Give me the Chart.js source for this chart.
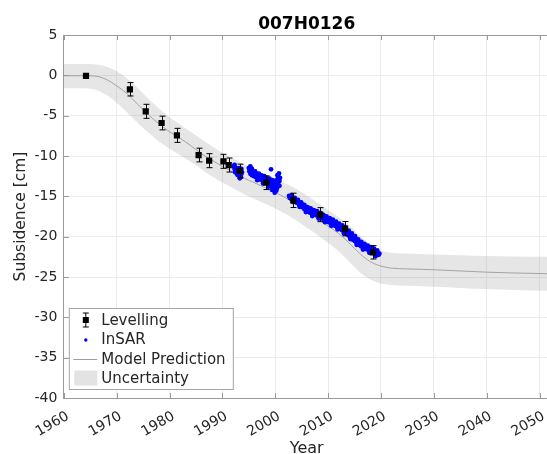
<!DOCTYPE html>
<html><head><meta charset="utf-8">
<script src="https://cdn.jsdelivr.net/npm/chart.js@4.4.1/dist/chart.umd.min.js"></script>
<style>
html,body{margin:0;padding:0;background:#fff;overflow:hidden;}
#wrap{position:absolute;left:0;top:0;width:547px;height:454px;overflow:hidden;background:#fff;}
canvas{display:block;}
</style></head><body>
<div id="wrap"><canvas id="c" width="554" height="464"></canvas></div>
<script>
const chartTitle = '007H0126';
const xTicks = [1960, 1970, 1980, 1990, 2000, 2010, 2020, 2030, 2040, 2050];
const yTicks = [5, 0, -5, -10, -15, -20, -25, -30, -35, -40];
const legendLabels = ['Levelling', 'InSAR', 'Model Prediction', 'Uncertainty'];

const levYears  = [1964.2, 1972.5, 1975.5, 1978.5, 1981.4, 1985.5, 1987.5, 1990.2, 1991.2, 1993.3, 1998.3, 2003.4, 2008.5, 2013.2, 2018.5];
const levValues = [-0.08, -1.73, -4.46, -5.91, -7.44, -9.88, -10.58, -10.66, -11.12, -11.86, -13.31, -15.5, -17.27, -19.01, -21.94];
const levErrors = [0, 0.83, 0.87, 0.85, 0.87, 0.85, 0.87, 0.87, 0.87, 0.85, 0.85, 0.89, 0.87, 0.89, 0.83];

const insarYears = [
 1992.2,1992.3,1992.4,1992.5,1992.6,1992.7,1992.8,1992.9,1993.0,1993.1,1993.2,1993.3,1993.4,1993.5,1993.6,1992.4,1992.8,1993.7,1993.3,
 1992.3,1993.0,1993.6,
 1995.0,1995.1,1995.2,1995.3,1995.4,1995.5,1995.6,1995.7,1995.8,1995.9,1996.0,1996.1,1996.3,1996.4,1996.5,1996.7,1996.8,1997.0,1997.1,1997.3,
 1997.5,1997.6,1997.8,1998.0,1998.1,1998.3,1998.5,1998.6,1998.8,1999.0,1999.1,1999.2,1999.3,1999.5,1999.6,1999.7,1999.9,2000.0,2000.1,2000.2,
 2000.3,2000.4,2000.5,2000.6,2000.7,2000.8,2000.9,1999.8,2000.2,
 1995.3,1995.6,1996.2,1996.9,1997.4,1997.9,1998.4,1998.9,1999.4,1999.8,2000.4,1996.6,1997.7,1998.7,1999.4,2000.3,2000.8,
 2002.60,2002.75,2002.90,2003.05,2003.20,2003.35,2003.50,2003.65,2003.80,2003.95,2004.10,2004.25,2004.40,2004.55,2004.70,2004.85,
 2005.00,2005.15,2005.30,2005.45,2005.60,2005.75,2005.90,2006.05,2006.20,2006.35,2006.50,2006.65,2006.80,2006.95,2007.10,2007.25,
 2007.40,2007.55,2007.70,2007.85,2008.00,2008.15,2008.30,2008.45,2008.60,2008.75,2008.90,2009.05,2009.20,2009.35,2009.50,2009.65,
 2009.80,2009.95,2010.10,2010.25,2010.40,2010.55,2010.70,2010.85,2011.00,2011.15,2011.30,2011.45,2011.60,2011.75,2011.90,2012.05,
 2012.20,2012.35,2012.50,2012.65,2012.80,2012.95,2013.10,2013.25,2013.40,2013.55,2013.70,2013.85,2014.00,2014.15,2014.30,2014.45,
 2014.60,2014.75,2014.90,2015.05,2015.20,2015.35,2015.50,2015.65,2015.80,2015.95,2016.10,2016.25,2016.40,2016.55,2016.70,2016.85,
 2017.00,2017.15,2017.30,2017.45,2017.60,2017.75,2017.90,2018.05,2018.20,2018.35,2018.50,2018.65,2018.80,2018.95,2019.10,2019.25,
 2019.40,2019.55,2019.70,
 2003.1,2003.7,2004.3,2004.9,2005.5,2006.1,2006.7,2007.3,2007.9,2008.5,2009.1,2009.7,2010.3,2010.9,2011.5,2012.1,2012.7,2013.3,
 2013.9,2014.5,2015.1,2015.7,2016.3,2016.9,2017.5,2018.1,2018.7,2019.3,
 2003.4,2004.6,2005.8,2007.0,2008.2,2009.4,2010.6,2011.8,2013.0,2014.2,2015.4,2016.6,2017.8,2019.0
];
const insarValues = [
 -11.3,-11.6,-11.4,-11.8,-11.5,-11.9,-11.6,-12.0,-11.7,-12.1,-11.5,-12.3,-11.9,-12.6,-12.2,-12.0,-12.3,-12.0,-12.76,
 -11.1,-12.4,-11.6,
 -11.5,-11.9,-11.4,-12.2,-11.8,-12.0,-12.4,-11.9,-12.3,-12.1,-12.5,-12.2,-12.6,-12.3,-12.7,-12.4,-12.8,-12.5,-12.9,-12.6,
 -13.0,-12.7,-13.1,-12.8,-13.2,-12.9,-13.3,-13.0,-13.5,-13.2,-13.7,-11.65,-13.4,-13.9,-13.2,-13.6,-14.55,-13.4,-13.9,-13.1,
 -13.6,-12.9,-13.4,-12.6,-12.15,-13.1,-12.7,-14.1,-14.3,
 -11.3,-11.6,-11.9,-12.2,-12.4,-12.5,-12.7,-12.8,-13.0,-13.1,-12.4,-13.0,-13.4,-13.8,-14.2,-14.0,-13.7,
 -14.95,-15.20,-15.05,-15.30,-15.10,-15.45,-15.25,-15.55,-15.40,-15.75,-15.50,-15.85,-15.70,-16.05,-15.80,-16.20,
 -15.95,-16.35,-16.15,-16.55,-16.30,-16.70,-16.45,-16.80,-16.55,-16.95,-16.70,-17.05,-16.80,-17.15,-16.85,-17.20,
 -16.95,-17.25,-17.00,-17.35,-17.10,-17.45,-17.20,-17.55,-17.30,-17.65,-17.45,-17.80,-17.55,-17.90,-17.65,-18.00,
 -17.80,-18.15,-17.90,-18.25,-18.00,-18.35,-18.10,-18.45,-18.25,-18.60,-18.35,-18.70,-18.50,-18.85,-18.60,-18.95,
 -18.75,-19.05,-18.85,-19.20,-19.00,-19.35,-19.10,-19.50,-19.25,-19.65,-19.40,-19.85,-19.60,-20.00,-19.80,-20.20,
 -19.95,-20.40,-20.15,-20.55,-20.30,-20.70,-20.50,-20.90,-20.70,-21.05,-20.85,-21.20,-20.95,-21.30,-21.10,-21.40,
 -21.20,-21.50,-21.30,-21.60,-21.40,-21.70,-21.50,-21.80,-21.60,-21.90,-21.70,-22.00,-21.80,-22.10,-21.90,-22.15,
 -22.00,-22.25,-22.10,
 -14.85,-15.20,-15.45,-15.75,-16.05,-16.35,-16.50,-16.70,-16.85,-17.05,-17.30,-17.50,-17.70,-17.90,-18.15,-18.40,-18.60,-18.85,
 -19.25,-19.60,-19.95,-20.35,-20.65,-20.90,-21.10,-21.30,-21.50,-21.70,
 -15.70,-16.30,-16.95,-17.45,-17.75,-18.20,-18.65,-19.10,-19.60,-20.30,-21.00,-21.60,-22.00,-22.40
];

const modelYears  = [1960, 1964, 1966, 1968, 1970, 1972, 1974, 1976, 1978, 1980, 1982, 1984, 1986, 1988, 1990, 1992, 1994, 1996, 1998, 2000, 2002, 2004, 2006, 2008, 2010, 2012, 2014, 2016, 2018, 2020, 2022, 2025, 2030, 2035, 2040, 2045, 2051.9];
const modelValues = [-0.05, -0.05, -0.1, -0.5, -1.3, -2.3, -3.6, -4.9, -6.0, -7.0, -7.8, -8.7, -9.7, -10.5, -11.3, -12.0, -12.7, -13.3, -13.9, -14.5, -15.2, -16.0, -16.9, -17.8, -18.7, -19.6, -20.8, -22.1, -23.1, -23.65, -23.9, -24.0, -24.1, -24.25, -24.4, -24.5, -24.6];
const bandUpper   = [1.4, 1.4, 1.35, 1.1, 0.5, -0.4, -1.6, -2.9, -4.1, -5.2, -6.1, -7.0, -7.9, -8.8, -9.6, -10.3, -11.0, -11.6, -12.2, -12.8, -13.4, -14.1, -14.9, -15.8, -16.7, -17.6, -18.6, -19.9, -21.0, -21.7, -22.0, -22.1, -22.2, -22.3, -22.4, -22.45, -22.5];
const bandLower   = [-1.6, -1.6, -1.8, -2.4, -3.4, -4.6, -5.9, -7.1, -8.2, -9.1, -9.9, -10.7, -11.6, -12.5, -13.3, -14.0, -14.7, -15.3, -15.9, -16.5, -17.2, -18.0, -18.9, -19.8, -20.8, -21.8, -23.1, -24.4, -25.3, -25.8, -26.0, -26.1, -26.2, -26.35, -26.5, -26.6, -26.7];

const FONT = "'DejaVu Sans', sans-serif";
const AXIS = '#9a9a9a';
const GRID = '#ebebeb';
const TXT = '#262626';
const BAND = 'rgba(128,128,128,0.2)';
const pts = (xs, ys) => xs.map((x, i) => ({x: x, y: ys[i]}));

const errorBars = {
  id: 'errorBars',
  beforeDatasetDraw(chart, args) {
    if (args.index !== 0) return;
    const c = chart.ctx, xs = chart.scales.x, ys = chart.scales.y;
    c.save();
    c.strokeStyle = '#000'; c.lineWidth = 1;
    levYears.forEach((yr, i) => {
      const e = levErrors[i];
      if (!e) return;
      const px = Math.round(xs.getPixelForValue(yr)) + 0.5;
      const pt = ys.getPixelForValue(levValues[i] + e);
      const pb = ys.getPixelForValue(levValues[i] - e);
      c.beginPath();
      c.moveTo(px, pt); c.lineTo(px, pb);
      c.moveTo(px - 3, pt); c.lineTo(px + 3, pt);
      c.moveTo(px - 3, pb); c.lineTo(px + 3, pb);
      c.stroke();
    });
    c.restore();
  }
};

const frame = {
  id: 'frame',
  afterDatasetsDraw(chart) {
    const c = chart.ctx, a = chart.chartArea, xs = chart.scales.x, ys = chart.scales.y;
    c.save();
    c.strokeStyle = AXIS; c.lineWidth = 1;
    c.beginPath();
    c.moveTo(a.left, Math.round(a.top) + 0.5); c.lineTo(a.right, Math.round(a.top) + 0.5);
    xTicks.forEach(v => {
      const px = Math.round(xs.getPixelForValue(v)) + 0.5;
      c.moveTo(px, a.top); c.lineTo(px, a.top + 5);
      c.moveTo(px, a.bottom); c.lineTo(px, a.bottom - 5);
    });
    yTicks.forEach(v => {
      const py = Math.round(ys.getPixelForValue(v)) + 0.5;
      c.moveTo(a.left, py); c.lineTo(a.left + 5, py);
    });
    c.stroke();
    c.restore();
  },
  afterDraw(chart) {
    const c = chart.ctx, a = chart.chartArea;
    const bx = a.left + 5.5, by = 308.5, bw = 164, bh = 81;
    c.save();
    c.fillStyle = '#fff'; c.fillRect(bx, by, bw, bh);
    c.strokeStyle = '#a6a6a6'; c.lineWidth = 1; c.strokeRect(bx, by, bw, bh);
    const sx = bx + 16.5, tx = bx + 32;
    const rows = [320, 339.5, 359, 378.5];
    c.strokeStyle = '#000';
    c.beginPath();
    c.moveTo(sx, rows[0] - 7); c.lineTo(sx, rows[0] + 7);
    c.moveTo(sx - 3, rows[0] - 7); c.lineTo(sx + 3, rows[0] - 7);
    c.moveTo(sx - 3, rows[0] + 7); c.lineTo(sx + 3, rows[0] + 7);
    c.stroke();
    c.fillStyle = '#000'; c.fillRect(sx - 3, rows[0] - 3, 6, 6);
    c.fillStyle = '#0000ff';
    c.beginPath(); c.arc(sx, rows[1] + 0.5, 1.7, 0, Math.PI * 2); c.fill();
    c.strokeStyle = '#9f9f9f';
    c.beginPath(); c.moveTo(bx + 4, rows[2] + 0.5); c.lineTo(bx + 28, rows[2] + 0.5); c.stroke();
    c.fillStyle = '#e3e3e3'; c.fillRect(bx + 5, rows[3] - 8, 23, 15);
    c.fillStyle = TXT; c.font = "15px " + FONT; c.textBaseline = 'middle'; c.textAlign = 'left';
    legendLabels.forEach((t, i) => c.fillText(t, tx, rows[i] + 1));
    c.restore();
  }
};

new Chart(document.getElementById('c').getContext('2d'), {
  type: 'scatter',
  data: { datasets: [
    {label: legendLabels[0], data: pts(levYears, levValues), pointStyle: 'rect', pointRadius: 4.4, backgroundColor: '#000', borderColor: '#000', borderWidth: 0},
    {label: legendLabels[1], data: pts(insarYears, insarValues), pointRadius: 2.4, backgroundColor: '#0000ff', borderWidth: 0},
    {label: legendLabels[2], data: pts(modelYears, modelValues), showLine: true, borderColor: '#a3a3a3', borderWidth: 1, pointRadius: 0, cubicInterpolationMode: 'monotone', fill: false},
    {label: legendLabels[3], data: pts(modelYears, bandUpper), showLine: true, borderWidth: 0, borderColor: 'rgba(0,0,0,0)', pointRadius: 0, fill: '+1', backgroundColor: BAND, cubicInterpolationMode: 'monotone'},
    {label: 'lower', data: pts(modelYears, bandLower), showLine: true, borderWidth: 0, borderColor: 'rgba(0,0,0,0)', pointRadius: 0, fill: false, cubicInterpolationMode: 'monotone'}
  ]},
  options: {
    responsive: false, animation: false, devicePixelRatio: 1,
    layout: {padding: 0},
    plugins: {
      legend: {display: false}, tooltip: {enabled: false},
      title: {display: true, text: chartTitle, fullSize: false, color: '#000', font: {family: FONT, size: 17, weight: 'bold', lineHeight: 1.2}, padding: {top: 14, bottom: 0.6}}
    },
    scales: {
      x: {
        type: 'linear', min: 1960, max: 2051.9,
        afterFit(s) { s.height = 66; s.paddingRight = 0; s.paddingLeft = 0; },
        afterBuildTicks(s) { s.ticks = xTicks.map(v => ({value: v})); },
        ticks: {autoSkip: false, maxRotation: 30, minRotation: 30, padding: 10, labelOffset: 4, font: {family: FONT, size: 14}, color: TXT, callback: v => String(v)},
        grid: {color: GRID, drawTicks: false, lineWidth: 1},
        border: {color: AXIS},
        title: {display: true, text: 'Year', font: {family: FONT, size: 16}, color: TXT, padding: {top: 0, bottom: 5.4}}
      },
      y: {
        type: 'linear', min: -40, max: 5,
        afterFit(s) { s.width = 63.8; },
        afterBuildTicks(s) { s.ticks = yTicks.map(v => ({value: v})); },
        ticks: {padding: 6.5, font: {family: FONT, size: 14}, color: TXT, callback: v => String(v)},
        grid: {color: GRID, drawTicks: false, lineWidth: 1},
        border: {color: AXIS},
        title: {display: true, text: 'Subsidence [cm]', font: {family: FONT, size: 15.5}, color: TXT, padding: {top: 11.7, bottom: 0}}
      }
    }
  },
  plugins: [errorBars, frame]
});
</script>
</body></html>
